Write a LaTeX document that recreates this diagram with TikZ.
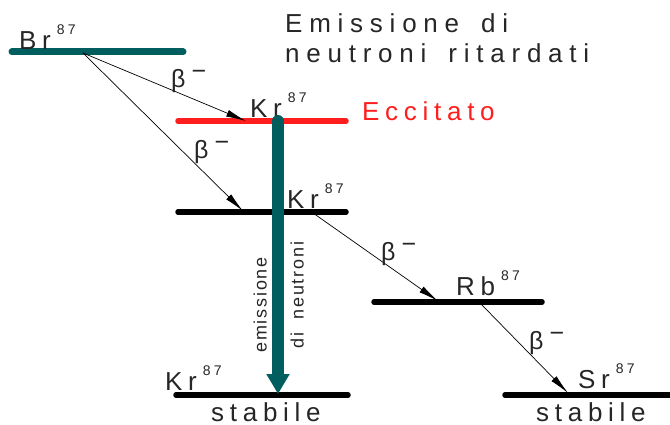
\documentclass[tikz,border=0pt]{standalone}
\usepackage{fontspec}
\setmainfont{Liberation Sans}[LetterSpace=22]
\usetikzlibrary{arrows.meta}
\definecolor{uTeal}{HTML}{005E5E}
\definecolor{uHot}{HTML}{FF1E1E}
\definecolor{uInk}{HTML}{262626}
\newcommand{\ttlfont}{\fontsize{26}{30}\selectfont
  \addfontfeatures{LetterSpace=26}\spaceskip=22pt\relax}
\newcommand{\vlblfont}{\fontsize{18}{20}\selectfont
  \addfontfeatures{LetterSpace=10}\spaceskip=13pt\relax}
\tikzset{
  lvl/.style={line width=5.5pt, line cap=round},
  lvlbr/.style={lvl, draw=uTeal, line width=7pt},
  lvlhot/.style={lvl, draw=uHot},
  decay/.style={-{Latex[length=20pt, width=7pt]}, line width=0.7pt},
  neutron/.style={-{Triangle[length=20pt, width=22pt]}, draw=uTeal,
                  line width=12pt, line cap=round},
  % every text sits on its baseline, no padding
  txt/.style={inner sep=0pt, text depth=0pt, text=uInk,
              font=\fontsize{26}{30}\selectfont},
  ttl/.style={txt, anchor=base west, font=\ttlfont},
  beta/.style={txt, anchor=west, font=\fontsize{25}{27}\selectfont},
  vlbl/.style={txt, rotate=90, font=\vlblfont},
}
\newcommand{\nuc}[2]{#1\hspace{6pt}\raisebox{15pt}{\fontsize{14}{14}\selectfont #2}}
\newcommand{\bminus}{β\hspace{6pt}\raisebox{8pt}{−}}

\begin{document}
\begin{tikzpicture}[x=1pt, y=-1pt]
\useasboundingbox (0,0) rectangle (670,425);

%% ── the levels ───────────────────────────────────────────────────────────
\coordinate (brL) at (12,52);    \coordinate (brR) at (183,52);
\coordinate (hotL) at (178,121); \coordinate (hotR) at (346,121);
\coordinate (krL) at (178,212);  \coordinate (krR) at (346,212);
\coordinate (rbL) at (374,302);  \coordinate (rbR) at (542,302);
\coordinate (stL) at (176,395);  \coordinate (stR) at (348,395);
\coordinate (srL) at (505,395);  \coordinate (srR) at (680,395);

\draw[lvlbr] (brL) -- (brR);
\draw[lvlhot] (hotL) -- (hotR);
\draw[lvl] (krL) -- (krR);
\draw[lvl] (rbL) -- (rbR);
\draw[lvl] (stL) -- (stR);
\draw[lvl] (srL) -- (srR);

%% ── level labels ─────────────────────────────────────────────────────────
\node[txt, anchor=base west] (br) at (19,50) {\nuc{Br}{87}};
\node[txt, anchor=base west] (krhot) at (250,118) {\nuc{Kr}{87}};
\node[txt, anchor=base west, text=uHot] (ecc) at (362,121) {Eccitato};
\node[txt, anchor=base west] (kr) at (287,208) {\nuc{Kr}{87}};
\node[txt, anchor=base west] (rb) at (456,295) {\nuc{Rb}{87}};
\node[txt, anchor=base west] (krst) at (165,390) {\nuc{Kr}{87}};
\node[txt, anchor=base west] (stA) at (211,421) {stabile};
\node[txt, anchor=base west] (sr) at (578,388) {\nuc{Sr}{87}};
\node[txt, anchor=base west] (stB) at (536,421) {stabile};

%% ── title ────────────────────────────────────────────────────────────────
\node[ttl] (ttlA) at (285,33) {Emissione di};
\node[ttl] (ttlB) at (285,63) {neutroni ritardati};

%% ── beta decays ──────────────────────────────────────────────────────────
\coordinate (brOut) at (83,53);
\coordinate (hotIn) at (246,121);
\coordinate (krIn) at (243,211);
\coordinate (krOut) at (313,213);
\coordinate (rbIn) at (438,301);
\coordinate (rbOut) at (480,303);
\coordinate (srIn) at (568,393);

\draw[decay] (brOut) -- (hotIn);
\draw[decay] (brOut) -- (krIn);
\draw[decay] (krOut) -- (rbIn);
\draw[decay] (rbOut) -- (srIn);

\node[beta] (b1) at (171,78) {\bminus};
\node[beta] (b2) at (194,149) {\bminus};
\node[beta] (b3) at (381,251) {\bminus};
\node[beta] (b4) at (529,340) {\bminus};

%% ── neutron emission ─────────────────────────────────────────────────────
\coordinate (nTop) at (278,121);
\coordinate (nBot) at (278,394);
\draw[neutron] (nTop) -- (nBot);
\node[vlbl] (emA) at (260,305) {emissione};
\node[vlbl] (emB) at (297,295) {di neutroni};

\end{tikzpicture}
\end{document}
